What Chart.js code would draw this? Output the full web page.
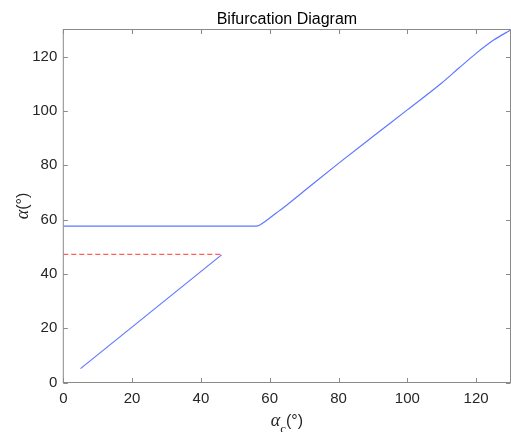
<!DOCTYPE html>
<html>
<head>
<meta charset="utf-8">
<script src="https://cdn.jsdelivr.net/npm/chart.js@4"></script>
<style>
  html, body { margin: 0; padding: 0; background: #fff; }
  #wrap { width: 511px; height: 432px; }
</style>
</head>
<body>
<div id="wrap"><canvas id="bif" width="511" height="432"></canvas></div>
<script>
// stable branch: flat part, then the rising branch after the bifurcation
var upperX = [0, 56, 57, 58, 60, 62, 65, 70, 80, 90, 100, 110, 115, 120, 125, 130];
var upperY = [57.6, 57.6, 57.9, 58.7, 60.6, 62.5, 65.4, 70.5, 80.7, 90.6, 100.4, 110.3, 115.8, 121.2, 126.0, 129.8];

// lower branch (ends at the threshold)
var lowerX = [5, 46];
var lowerY = [5.1, 47];

// threshold line
var threshX = [0, 46];
var threshY = [47.2, 47.2];

var xTicks = [0, 20, 40, 60, 80, 100, 120];
var yTicks = [0, 20, 40, 60, 80, 100, 120];

var axisColor = '#8a8a8a';
var textColor = '#262626';
var sans = '"Liberation Sans", Arial, sans-serif';
var serif = '"Liberation Serif", "DejaVu Serif", serif';

function toPoints(xs, ys) {
    return xs.map(function(x, i) { return { x: x, y: ys[i] }; });
}

// box, inward ticks, title and axis labels
var frame = {
    id: 'frame',
    afterDraw: function(chart) {
        var ctx = chart.ctx;
        var a = chart.chartArea;
        var sx = chart.scales.x, sy = chart.scales.y;
        var tl = 4.5;

        ctx.save();
        ctx.strokeStyle = axisColor;
        ctx.lineWidth = 1;
        ctx.strokeRect(a.left, a.top, a.right - a.left, a.bottom - a.top);

        ctx.beginPath();
        xTicks.forEach(function(v) {
            var p = Math.round(sx.getPixelForValue(v)) + 0.5;
            ctx.moveTo(p, a.bottom); ctx.lineTo(p, a.bottom - tl);
            ctx.moveTo(p, a.top); ctx.lineTo(p, a.top + tl);
        });
        yTicks.forEach(function(v) {
            var p = Math.round(sy.getPixelForValue(v)) + 0.5;
            ctx.moveTo(a.left, p); ctx.lineTo(a.left + tl, p);
            ctx.moveTo(a.right, p); ctx.lineTo(a.right - tl, p);
        });
        ctx.stroke();

        // title
        ctx.fillStyle = '#000';
        ctx.font = '16px ' + sans;
        ctx.textAlign = 'center';
        ctx.textBaseline = 'alphabetic';
        ctx.fillText('Bifurcation Diagram', (a.left + a.right) / 2, 24);

        // x label: alpha_c (deg)
        ctx.fillStyle = textColor;
        var cx = (a.left + a.right) / 2;
        var base = 426;
        ctx.font = 'italic 18px ' + serif;
        var wA = ctx.measureText('\u03b1').width;
        ctx.font = '13px ' + serif;
        var wC = ctx.measureText('c').width;
        ctx.font = '16px ' + sans;
        var wP = ctx.measureText('(\u00b0)').width;
        var x0 = cx - (wA + wC + wP) / 2;
        ctx.textAlign = 'left';
        ctx.font = 'italic 18px ' + serif;
        ctx.fillText('\u03b1', x0, base);
        ctx.font = '13px ' + serif;
        ctx.fillText('c', x0 + wA, base + 7);
        ctx.font = '16px ' + sans;
        ctx.fillText('(\u00b0)', x0 + wA + wC, base);

        // y label: alpha (deg), rotated
        ctx.translate(28, (a.top + a.bottom) / 2);
        ctx.rotate(-Math.PI / 2);
        ctx.font = 'italic 18px ' + serif;
        var wA2 = ctx.measureText('\u03b1').width;
        ctx.font = '16px ' + sans;
        var wP2 = ctx.measureText('(\u00b0)').width;
        var y0 = -(wA2 + wP2) / 2;
        ctx.font = 'italic 18px ' + serif;
        ctx.fillText('\u03b1', y0, 0);
        ctx.font = '16px ' + sans;
        ctx.fillText('(\u00b0)', y0 + wA2, 0);
        ctx.restore();
    }
};

new Chart(document.getElementById('bif').getContext('2d'), {
    type: 'line',
    data: {
        datasets: [{
            data: toPoints(upperX, upperY),
            borderColor: 'rgb(95, 120, 255)',
            borderWidth: 1.2,
            pointRadius: 0,
            cubicInterpolationMode: 'monotone'
        }, {
            data: toPoints(lowerX, lowerY),
            borderColor: 'rgb(95, 120, 255)',
            borderWidth: 1.2,
            pointRadius: 0,
            tension: 0
        }, {
            data: toPoints(threshX, threshY),
            borderColor: 'rgb(255, 95, 95)',
            borderWidth: 1.2,
            borderDash: [5, 3],
            pointRadius: 0,
            tension: 0
        }]
    },
    options: {
        responsive: false,
        animation: false,
        layout: { padding: { top: 29.5, right: 0.5, left: 0, bottom: 0 } },
        plugins: {
            legend: { display: false },
            tooltip: { enabled: false },
            title: { display: false }
        },
        scales: {
            x: {
                type: 'linear',
                min: 0,
                max: 130,
                grid: { display: false, drawTicks: false },
                border: { display: false },
                afterFit: function(s) { s.height = 49.5; },
                afterBuildTicks: function(s) {
                    s.ticks = xTicks.map(function(v) { return { value: v }; });
                },
                ticks: {
                    padding: 7,
                    maxRotation: 0,
                    color: textColor,
                    font: { family: sans, size: 15 }
                }
            },
            y: {
                type: 'linear',
                min: 0,
                max: 130,
                grid: { display: false, drawTicks: false },
                border: { display: false },
                afterFit: function(s) { s.width = 63.3; },
                afterBuildTicks: function(s) {
                    s.ticks = yTicks.map(function(v) { return { value: v }; });
                },
                ticks: {
                    padding: 6,
                    color: textColor,
                    font: { family: sans, size: 15 }
                }
            }
        }
    },
    plugins: [frame]
});
</script>
</body>
</html>
